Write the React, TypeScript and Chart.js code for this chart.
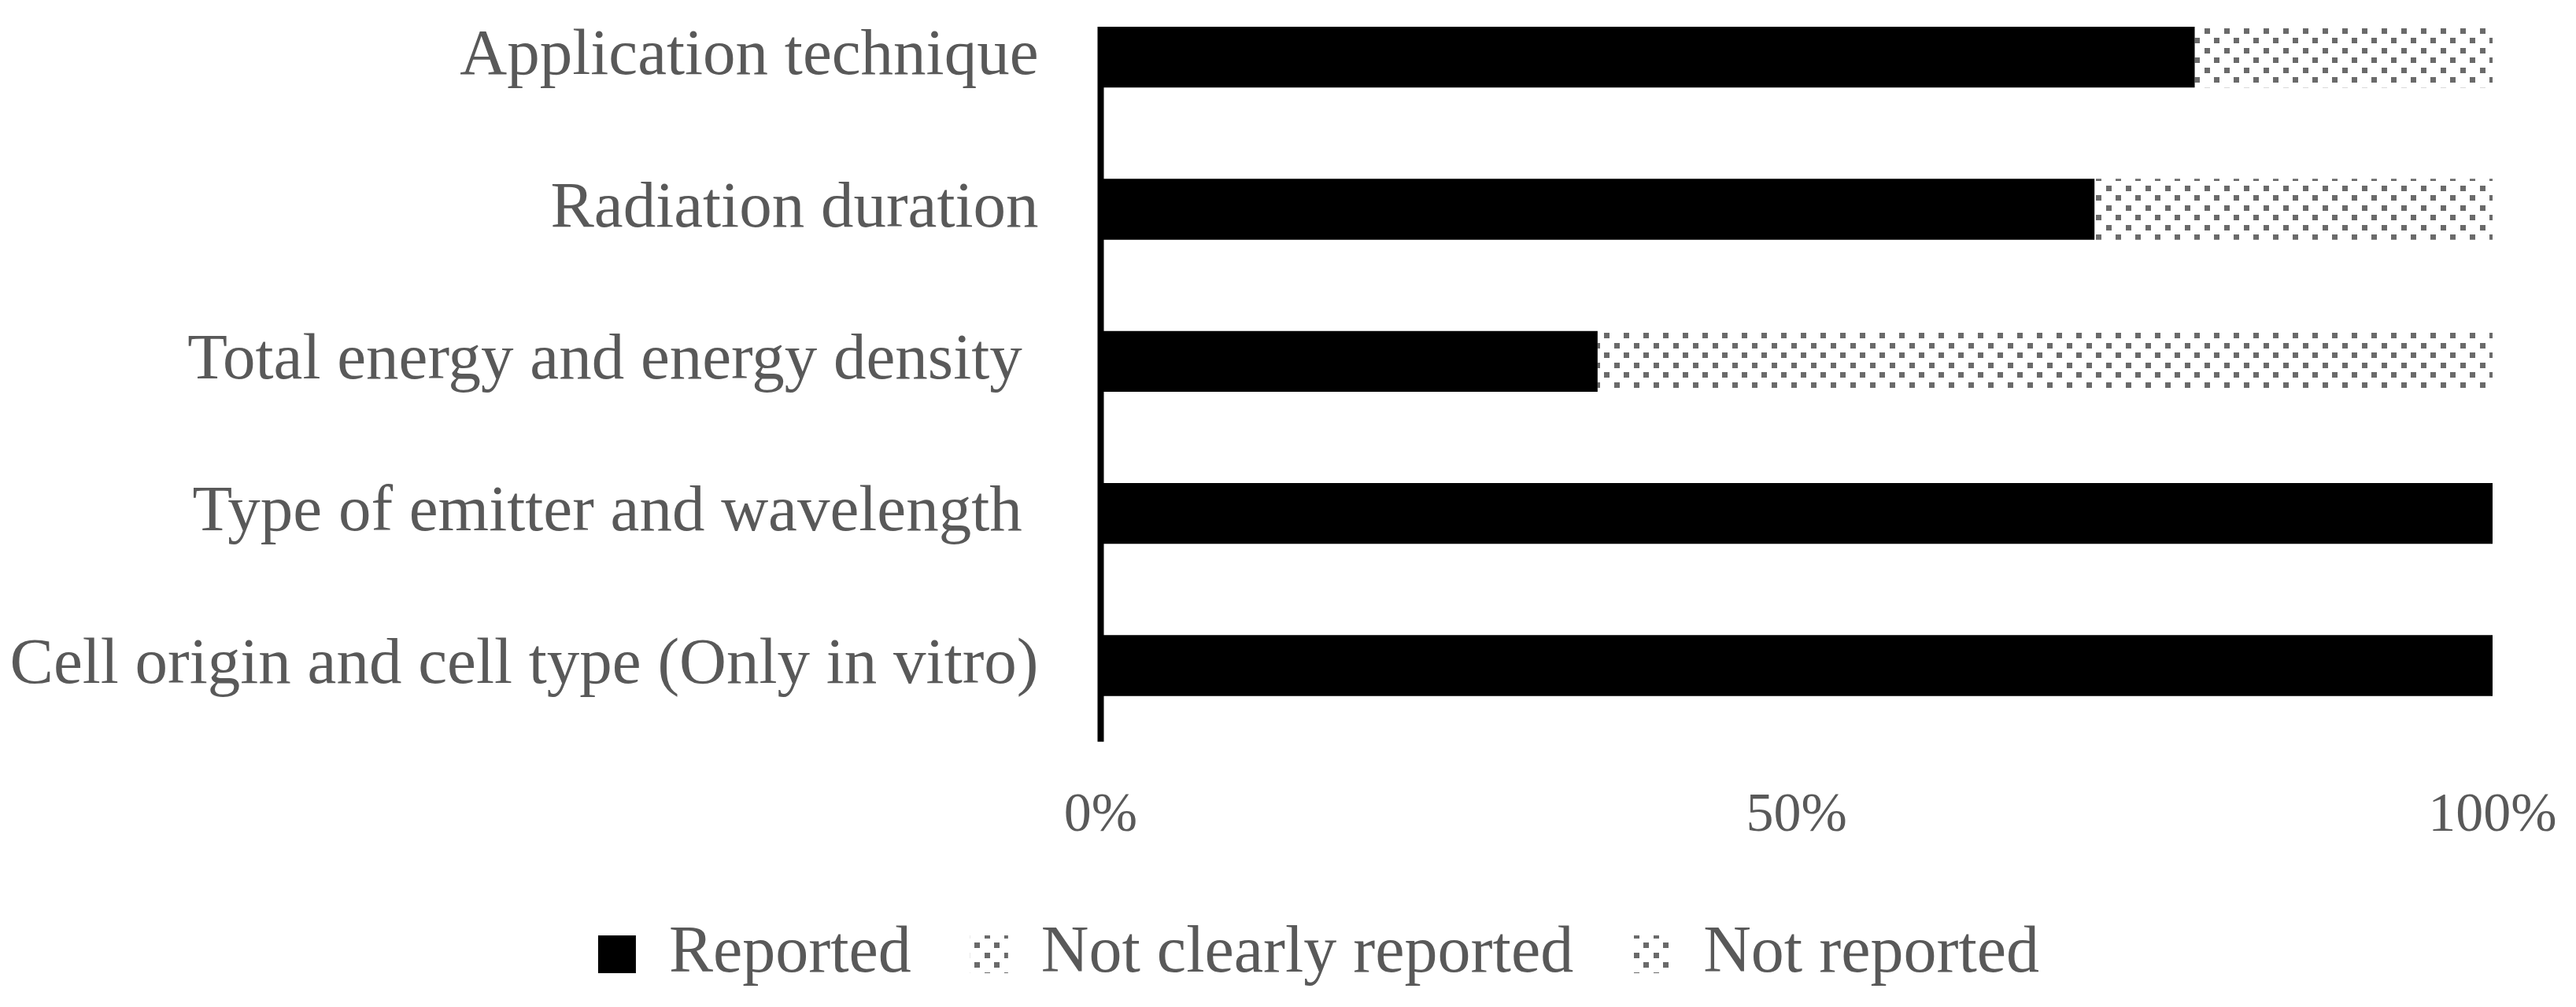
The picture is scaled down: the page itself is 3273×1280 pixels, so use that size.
import React, { useEffect, useRef } from 'react';
import { Chart, registerables } from 'chart.js';

Chart.register(...registerables);

const categories = [
  'Application technique',
  'Radiation duration',
  'Total energy and energy density ',
  'Type of emitter and wavelength ',
  'Cell origin and cell type (Only in vitro)',
];
const seriesNames = ['Reported', 'Not clearly reported', 'Not reported'];
const reported = [78.6, 71.4, 35.7, 100, 100];
const notClearlyReported = [0, 0, 0, 0, 0];
const notReported = [21.4, 28.6, 64.3, 0, 0];
const xTickValues = [0, 50, 100];

const TEXT = '#595959';
const FONT = 'Liberation Serif';

function makeDots(): CanvasPattern | string {
  const c = document.createElement('canvas');
  c.width = 25;
  c.height = 25;
  const g = c.getContext('2d');
  if (!g) return '#bbbbbb';
  g.fillStyle = '#ffffff';
  g.fillRect(0, 0, 25, 25);
  g.fillStyle = '#6a6a6a';
  g.fillRect(1, 1, 7, 7);
  g.fillRect(13, 13, 7, 7);
  const p = g.createPattern(c, 'repeat');
  return p || '#bbbbbb';
}

const axisLinePlugin = {
  id: 'axisLine',
  afterLayout(chart: any) {
    if (chart.legend) {
      chart.legend.left += 92;
      chart.legend.right += 92;
    }
  },
  afterDatasetsDraw(chart: any) {
    const meta = chart.getDatasetMeta(0);
    const first = meta.data[0];
    if (!first) return;
    const x = chart.scales.x.getPixelForValue(0);
    const top = first.y - first.height / 2;
    const ctx = chart.ctx;
    ctx.save();
    ctx.strokeStyle = '#000000';
    ctx.lineWidth = 8;
    ctx.beginPath();
    ctx.moveTo(x, top);
    ctx.lineTo(x, chart.chartArea.bottom);
    ctx.stroke();
    ctx.restore();
  },
};

export default function App() {
  const ref = useRef<HTMLCanvasElement | null>(null);

  useEffect(() => {
    if (!ref.current) return;
    const dots = makeDots();
    const chart = new Chart(ref.current, {
      type: 'bar',
      data: {
        labels: categories,
        datasets: [
          { label: seriesNames[0], data: reported, backgroundColor: '#000000', borderWidth: 0 },
          { label: seriesNames[1], data: notClearlyReported, backgroundColor: dots as any, borderWidth: 0 },
          { label: seriesNames[2], data: notReported, backgroundColor: dots as any, borderWidth: 0 },
        ],
      },
      options: {
        indexAxis: 'y',
        responsive: false,
        animation: false,
        barPercentage: 0.4,
        categoryPercentage: 1.0,
        layout: { padding: { top: 16, left: 0, right: 106, bottom: 15 } },
        plugins: {
          tooltip: { enabled: false },
          legend: {
            position: 'bottom',
            labels: {
              boxWidth: 48,
              boxHeight: 48,
              padding: 75,
              color: TEXT,
              font: { family: FONT, size: 84 },
            },
          },
        },
        scales: {
          x: {
            stacked: true,
            min: 0,
            max: 100,
            afterBuildTicks: (s: any) => {
              s.ticks = xTickValues.map((v) => ({ value: v }));
            },
            afterFit: (s: any) => {
              s.height = 153.3;
              s.paddingLeft = 0;
              s.paddingRight = 0;
            },
            ticks: {
              callback: (v: any) => v + '%',
              color: TEXT,
              font: { family: FONT, size: 70 },
              padding: 53,
              maxRotation: 0,
            },
            grid: { display: false, drawTicks: false },
            border: { display: false },
          },
          y: {
            stacked: true,
            afterFit: (s: any) => {
              s.width = 1398.5;
              s.paddingTop = 0;
              s.paddingBottom = 0;
            },
            ticks: {
              color: TEXT,
              font: { family: FONT, size: 83 },
              padding: 79,
            },
            grid: { display: false, drawTicks: false },
            border: { display: false },
          },
        },
      },
      plugins: [axisLinePlugin],
    });
    return () => chart.destroy();
  }, []);

  return (
    <div style={{ position: 'absolute', left: 0, top: -40, width: 3273, height: 1320 }}>
      <canvas ref={ref} width={3273} height={1320} style={{ display: 'block' }} />
    </div>
  );
}
